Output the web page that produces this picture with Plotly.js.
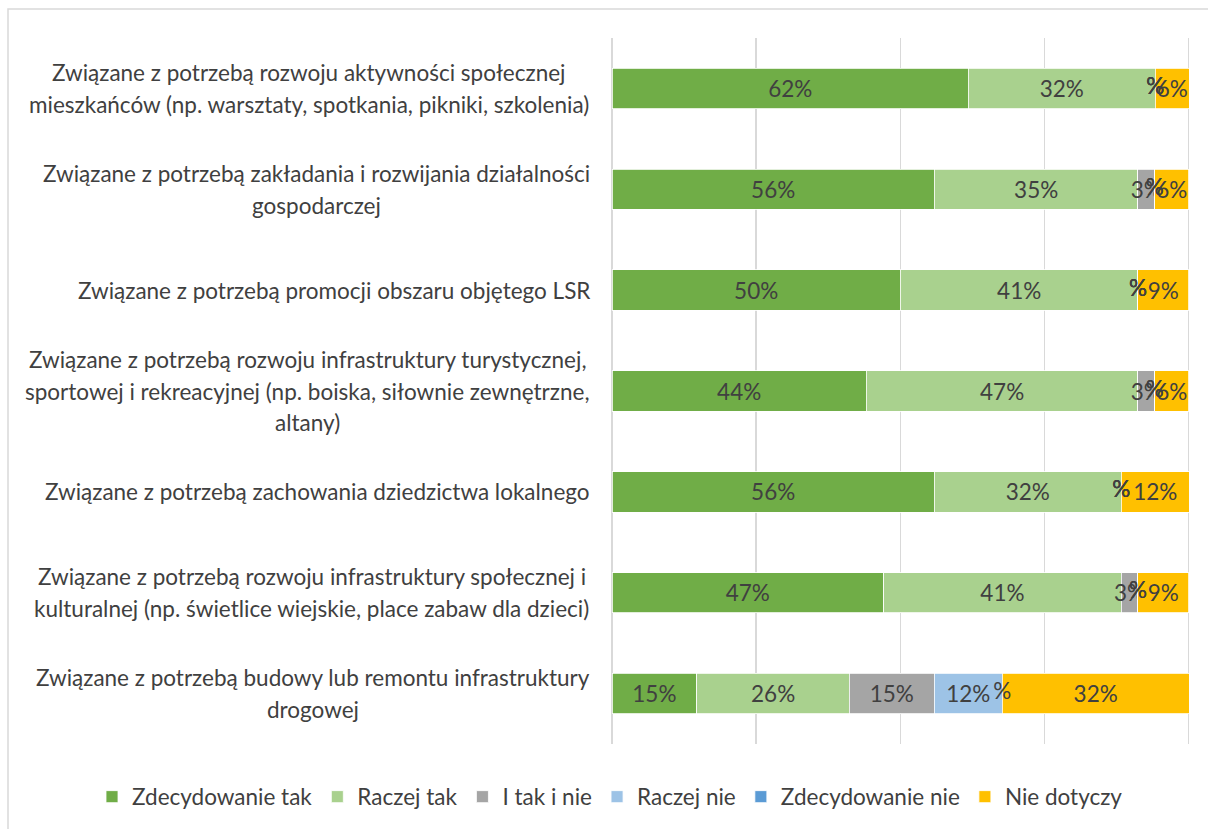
<!DOCTYPE html>
<html>
<head>
<meta charset="utf-8">
<script src="https://cdn.plot.ly/plotly-3.0.1.min.js"></script>
<style>
  html, body { margin: 0; padding: 0; background: #fff; overflow: hidden; }
  #chart { width: 1208px; height: 829px; }
</style>
</head>
<body>
<div id="chart"></div>
<script>
const categories = [
  "Związane z potrzebą rozwoju aktywności społecznej<br>mieszkańców (np. warsztaty, spotkania, pikniki, szkolenia)",
  "Związane z potrzebą zakładania i rozwijania działalności<br>gospodarczej",
  "Związane z potrzebą promocji obszaru objętego LSR",
  "Związane z potrzebą rozwoju infrastruktury turystycznej,<br>sportowej i rekreacyjnej (np. boiska, siłownie zewnętrzne,<br>altany)",
  "Związane z potrzebą zachowania dziedzictwa lokalnego",
  "Związane z potrzebą rozwoju infrastruktury społecznej i<br>kulturalnej (np. świetlice wiejskie, place zabaw dla dzieci)",
  "Związane z potrzebą budowy lub remontu infrastruktury<br>drogowej"
];
const seriesNames = ["Zdecydowanie tak", "Raczej tak", "I tak i nie", "Raczej nie", "Zdecydowanie nie", "Nie dotyczy"];
const seriesColors = ["#70AD47", "#A9D18E", "#A5A5A5", "#9DC3E6", "#5B9BD5", "#FFC000"];

const zdecydowanieTak = [61.8, 55.9, 50.0, 44.1, 55.9, 47.1, 14.7];
const raczejTak       = [32.4, 35.3, 41.2, 47.1, 32.4, 41.2, 26.47];
const iTakINie        = [0,    2.9,  0,    2.9,  0,    2.9,  14.7];
const raczejNie       = [0,    0,    0,    0,    0,    0,    11.8];
const zdecydowanieNie = [0,    0,    0,    0,    0,    0,    0];
const nieDotyczy      = [5.9,  5.9,  8.8,  5.9,  11.8, 8.8,  32.4];

const seriesValues = [zdecydowanieTak, raczejTak, iTakINie, raczejNie, zdecydowanieNie, nieDotyczy];

const FONT_NAME = "Lato";
const FONT = "Lato, 'Open Sans', sans-serif";
const TXT = "#404040";
const FS = 22.5;
const LINE_H = 31.5;
const PLOT_W = 579;

const traces = seriesValues.map((vals, k) => ({
  type: "bar",
  orientation: "h",
  name: seriesNames[k],
  y: categories,
  x: vals,
  text: vals.map(v => v > 0 ? Math.round(v) + "%" : ""),
  texttemplate: "%{text}",
  textposition: "inside",
  insidetextanchor: "middle",
  constraintext: "none",
  textangle: 0,
  textfont: { family: FONT, size: FS, color: TXT },
  marker: { color: seriesColors[k], line: { color: "#ffffff", width: 0.8 } },
  width: 0.4,
  hoverinfo: "skip"
}));

// "%" marks left by zero-valued data labels at segment boundaries
const zx = [], zy = [];
categories.forEach((c, i) => {
  let cum = 0;
  seriesValues.forEach((vals, k) => {
    if (vals[i] === 0 && k > 0 && k < seriesValues.length - 1) { zx.push(cum); zy.push(c); }
    cum += vals[i];
  });
});
traces.push({
  type: "scatter", mode: "text", x: zx, y: zy, text: zx.map(() => "%"),
  textposition: "middle center", textfont: { family: FONT, size: FS, color: TXT },
  showlegend: false, hoverinfo: "skip", cliponaxis: false
});

// category labels: block right-aligned next to the plot, lines centred within the block
const ctx = document.createElement("canvas").getContext("2d");
ctx.font = FS + "px " + FONT_NAME;
const annotations = [];
categories.forEach(c => {
  const lines = c.split("<br>");
  const maxW = Math.max(...lines.map(l => ctx.measureText(l).width));
  lines.forEach((l, j) => {
    annotations.push({
      xref: "paper", yref: "y", x: 0, y: c, xanchor: "center", yanchor: "middle",
      xshift: -22 - maxW / 2, yshift: ((lines.length - 1) / 2 - j) * LINE_H,
      align: "center", showarrow: false, text: l,
      font: { family: FONT, size: FS, color: TXT }
    });
  });
});

const layout = {
  width: 1208, height: 829,
  margin: { l: 612, r: 1208 - 612 - PLOT_W, t: 38, b: 84 },
  paper_bgcolor: "#ffffff", plot_bgcolor: "#ffffff",
  barmode: "stack",
  bargap: 0.6,
  showlegend: true,
  xaxis: {
    range: [0, 100.4], tickvals: [0, 25, 50, 75, 100], showticklabels: false,
    showgrid: true, gridcolor: "#D9D9D9", gridwidth: 1.5,
    zeroline: true, zerolinecolor: "#D9D9D9", zerolinewidth: 1.5,
    showline: false, fixedrange: true
  },
  yaxis: {
    type: "category", categoryorder: "array", categoryarray: categories,
    autorange: "reversed", showticklabels: false, showgrid: false, zeroline: false,
    showline: false, fixedrange: true
  },
  legend: {
    orientation: "h", xref: "paper", yref: "paper",
    x: (92 - 612) / PLOT_W, xanchor: "left", y: -(797 - 745) / 707, yanchor: "middle",
    font: { family: FONT, size: FS, color: TXT }, traceorder: "normal",
    itemwidth: 30
  },
  annotations: annotations,
  shapes: [{
    type: "rect", xref: "paper", yref: "paper", layer: "below",
    x0: -(612 - 8) / PLOT_W, x1: 1.2, y0: -0.3, y1: 1 + (38 - 9) / 707,
    line: { color: "#D9D9D9", width: 1.5 }, fillcolor: "rgba(0,0,0,0)"
  }]
};

Plotly.newPlot("chart", traces, layout, { staticPlot: true, displayModeBar: false });
</script>
</body>
</html>
